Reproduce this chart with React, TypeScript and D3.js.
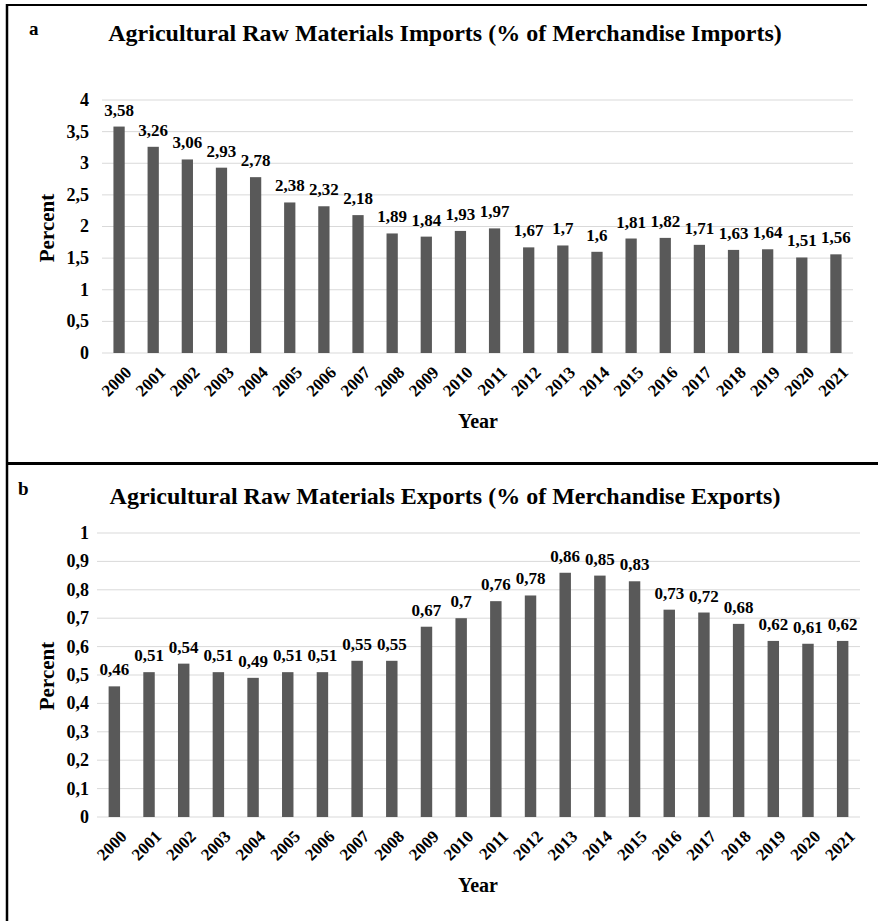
import { useEffect, useRef } from "react";
import * as d3 from "d3";

const years = [
  "2000", "2001", "2002", "2003", "2004", "2005", "2006", "2007", "2008", "2009", "2010",
  "2011", "2012", "2013", "2014", "2015", "2016", "2017", "2018", "2019", "2020", "2021",
];
const importsPct = [
  3.58, 3.26, 3.06, 2.93, 2.78, 2.38, 2.32, 2.18, 1.89, 1.84, 1.93,
  1.97, 1.67, 1.7, 1.6, 1.81, 1.82, 1.71, 1.63, 1.64, 1.51, 1.56,
];
const exportsPct = [
  0.46, 0.51, 0.54, 0.51, 0.49, 0.51, 0.51, 0.55, 0.55, 0.67, 0.7,
  0.76, 0.78, 0.86, 0.85, 0.83, 0.73, 0.72, 0.68, 0.62, 0.61, 0.62,
];
const importTicks = [0, 0.5, 1, 1.5, 2, 2.5, 3, 3.5, 4];
const exportTicks = [0, 0.1, 0.2, 0.3, 0.4, 0.5, 0.6, 0.7, 0.8, 0.9, 1];

const FONT = "Liberation Serif";
const BAR = "#595959";
const GRID = "#d9d9d9";

const fmt = (v: number) => String(v).replace(".", ",");

function drawPanel(svg: any, opts: any) {
  const { letter, letterX, letterY, title, titleY, values, ticks, yMax, x0, x1, yTop, yBottom, percentY, yearY } = opts;
  const g = svg.append("g").attr("font-family", FONT).attr("font-weight", "bold").attr("fill", "#000");

  const x = d3.scaleBand().domain(years).range([x0, x1]).paddingInner(0.67).paddingOuter(0.335);
  const y = d3.scaleLinear().domain([0, yMax]).range([yBottom, yTop]);

  // letter + title
  g.append("text").attr("x", letterX).attr("y", letterY)
    .style("font-size", "19px").text(letter);
  g.append("text").attr("x", 445).attr("y", titleY).attr("text-anchor", "middle")
    .style("font-size", "24px").text(title);

  // gridlines
  g.selectAll(".grid").data(ticks).enter().append("line")
    .attr("x1", x0).attr("x2", x1)
    .attr("y1", (d: number) => y(d)).attr("y2", (d: number) => y(d))
    .attr("stroke", GRID).attr("stroke-width", 1);

  // y tick labels
  g.selectAll(".ytick").data(ticks).enter().append("text")
    .attr("x", 89).attr("y", (d: number) => y(d)).attr("dy", "0.33em")
    .attr("text-anchor", "end").style("font-size", "18px")
    .text((d: number) => fmt(d));

  // bars
  g.selectAll(".bar").data(values).enter().append("rect")
    .attr("x", (_: number, i: number) => x(years[i]))
    .attr("width", x.bandwidth())
    .attr("y", (d: number) => y(d))
    .attr("height", (d: number) => yBottom - y(d))
    .attr("fill", BAR);

  // value labels
  g.selectAll(".val").data(values).enter().append("text")
    .attr("x", (_: number, i: number) => (x(years[i]) as number) + x.bandwidth() / 2)
    .attr("y", (d: number) => y(d) - 11)
    .attr("text-anchor", "middle").style("font-size", "17px")
    .text((d: number) => fmt(d));

  // year labels
  g.selectAll(".yr").data(years).enter().append("text")
    .attr("transform", (d: string) => {
      const cx = (x(d) as number) + x.bandwidth() / 2 + 5;
      return `translate(${cx},${yBottom + 12}) rotate(-45)`;
    })
    .attr("text-anchor", "end").attr("dy", "0.7em").style("font-size", "17px")
    .text((d: string) => d);

  // axis titles
  g.append("text").attr("x", 478).attr("y", yearY).attr("text-anchor", "middle")
    .style("font-size", "20px").text("Year");
  g.append("text").attr("transform", `translate(54,${percentY}) rotate(-90)`)
    .attr("text-anchor", "middle").style("font-size", "21px").text("Percent");
}

export default function App() {
  const svgRef = useRef<SVGSVGElement>(null);

  useEffect(() => {
    const svg = d3.select(svgRef.current);
    svg.selectAll("*").remove();
    svg.append("rect").attr("width", 878).attr("height", 921).attr("fill", "#fff");

    drawPanel(svg, {
      letter: "a", letterX: 29, letterY: 35,
      title: "Agricultural Raw Materials Imports (% of Merchandise Imports)", titleY: 41,
      values: importsPct, ticks: importTicks, yMax: 4,
      x0: 102, x1: 853, yTop: 100, yBottom: 353, percentY: 228, yearY: 428,
    });
    drawPanel(svg, {
      letter: "b", letterX: 18, letterY: 495,
      title: "Agricultural Raw Materials Exports (% of Merchandise Exports)", titleY: 504,
      values: exportsPct, ticks: exportTicks, yMax: 1,
      x0: 97, x1: 860, yTop: 533, yBottom: 817, percentY: 676, yearY: 892,
    });

    // frame lines
    svg.append("line").attr("x1", 6).attr("x2", 867).attr("y1", 5).attr("y2", 5)
      .attr("stroke", "#000").attr("stroke-width", 2);
    svg.append("line").attr("x1", 7).attr("x2", 7).attr("y1", 4).attr("y2", 921)
      .attr("stroke", "#000").attr("stroke-width", 2.5);
    svg.append("line").attr("x1", 6).attr("x2", 878).attr("y1", 463.5).attr("y2", 463.5)
      .attr("stroke", "#000").attr("stroke-width", 3);
  }, []);

  return (
    <div style={{ position: "absolute", left: 0, top: 0 }}>
      <svg ref={svgRef} width={878} height={921} viewBox="0 0 878 921" />
    </div>
  );
}
